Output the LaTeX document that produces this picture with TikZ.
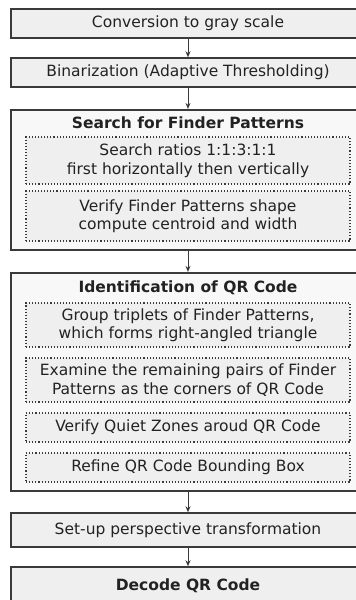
\documentclass[tikz,border=0pt]{standalone}
\usepackage{fontspec}
\setmainfont{DejaVu Sans}
\usetikzlibrary{arrows.meta}

\definecolor{boxfill}{HTML}{EFEFEF}
\definecolor{groupfill}{HTML}{F8F8F8}
\definecolor{edgegray}{HTML}{3A3A3A}
\definecolor{textgray}{HTML}{222222}

\tikzset{
  stepbox/.style={draw=edgegray, fill=boxfill, line width=1.5pt, minimum width=354pt, minimum height=29pt, inner sep=0pt, text=textgray},
  groupbox/.style={draw=edgegray, fill=groupfill, line width=2.2pt, minimum width=354pt, inner sep=0pt},
  subbox/.style={draw=edgegray, fill=boxfill, dotted, line width=1.1pt, minimum width=324pt, inner sep=0pt, align=center, text=textgray},
  flow/.style={-{Stealth[length=6pt,width=5pt]}, line width=0.9pt, draw=edgegray},
}

\begin{document}
\begin{tikzpicture}[x=1pt, y=-1pt]
\fontsize{15.5}{18.5}\selectfont
	\useasboundingbox (0,0) rectangle (356,600);
	\draw (188, 23.5) node[stepbox] (gray) {Conversion to gray scale};
	\draw (188, 72.5) node[stepbox] (binar) {Binarization (Adaptive Thresholding)};
	\draw (188,180)   node[groupbox, minimum height=140pt] (search) {};
	\draw (188,123)   node[text=textgray] (searchT) {\bfseries Search for Finder Patterns};
	\draw (188,160.5) node[subbox, minimum height=47pt] (ratios) {Search ratios 1:1:3:1:1\\first horizontally then vertically};
	\draw (188,216)   node[subbox, minimum height=50pt] (verify) {Verify Finder Patterns shape\\compute centroid and width};
	\draw (188,382)   node[groupbox, minimum height=218pt] (ident) {};
	\draw (188,288)   node[text=textgray] (identT) {\bfseries Identification of QR Code};
	\draw (188,325)   node[subbox, minimum height=44pt] (triplets) {Group triplets of Finder Patterns,\\ which forms right-angled triangle};
	\draw (188,380)   node[subbox, minimum height=44pt] (pairs) {Examine the remaining pairs of Finder\\Patterns as the corners of QR Code};
	\draw (188,427.5) node[subbox, minimum height=29pt] (quiet) {Verify Quiet Zones aroud QR Code};
	\draw (188,467.5) node[subbox, minimum height=29pt] (refine) {Refine QR Code Bounding Box};
	\draw (188,530)   node[stepbox, minimum height=34pt] (persp) {Set-up perspective transformation};
	\draw (188,586)   node[stepbox, minimum height=38pt] (decode) {\bfseries Decode QR Code};
	\draw[flow] (gray) -- (binar);
	\draw[flow] (binar) -- (search);
	\draw[flow] (search) -- (ident);
	\draw[flow] (ident) -- (persp);
	\draw[flow] (persp) -- (decode);
\end{tikzpicture}
\end{document}
